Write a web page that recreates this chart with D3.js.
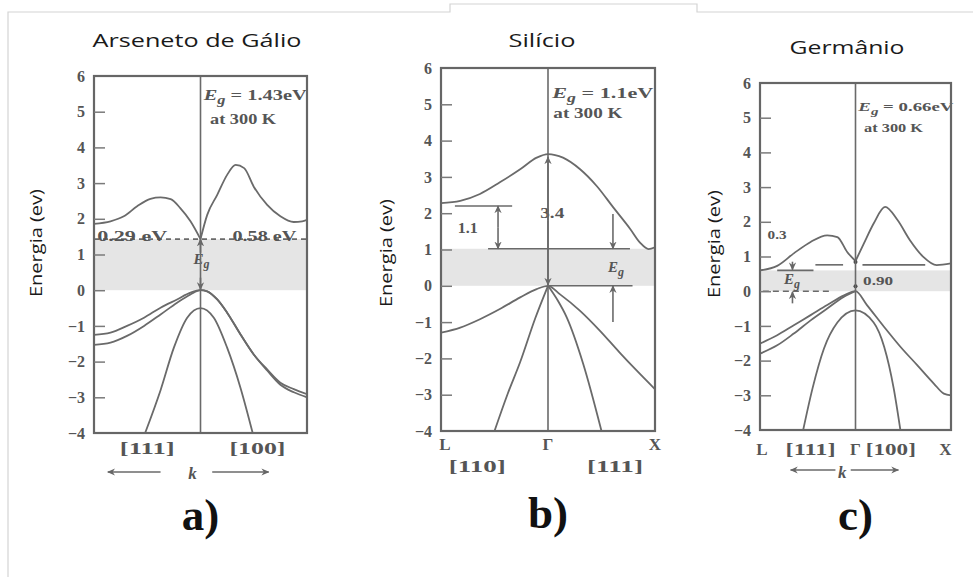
<!DOCTYPE html>
<html>
<head>
<meta charset="utf-8">
<script src="https://cdn.jsdelivr.net/npm/d3@7"></script>
<style>
  body { margin: 0; background: #fff; }
  svg { display: block; }
  .band { fill: none; stroke: #6a6a6a; stroke-width: 1.8; }
  .guide { stroke: #6a6a6a; stroke-width: 1.6; }
</style>
</head>
<body>
<svg id="chart" width="973" height="577"></svg>
<script>
// energy axis ticks, shared by the three panels (eV)
var energyTicks = [-4, -3, -2, -1, 0, 1, 2, 3, 4, 5, 6];

// k runs from -1 (L, left edge) through 0 (Gamma) to 1 (X, right edge)
// --- a) GaAs ---
var gaasGap = 1.43;
var gaasCond = [[-1, 1.86], [-0.845, 1.93], [-0.72, 2.07], [-0.595, 2.35], [-0.47, 2.56], [-0.375, 2.6], [-0.28, 2.55],
  [-0.19, 2.3], [-0.094, 1.93], [0, 1.43], [0.063, 2.11], [0.157, 2.67], [0.25, 3.23], [0.33, 3.51], [0.41, 3.42],
  [0.5, 2.9], [0.626, 2.39], [0.75, 2.07], [0.876, 1.91], [0.955, 1.93], [1, 1.97]];
var gaasHeavy = [[-1, -1.25], [-0.845, -1.19], [-0.69, -1.0], [-0.53, -0.77], [-0.375, -0.49], [-0.22, -0.26], [-0.094, -0.07],
  [0, 0], [0.063, -0.03], [0.157, -0.26], [0.25, -0.63], [0.376, -1.24], [0.5, -1.8], [0.626, -2.22], [0.75, -2.59],
  [0.876, -2.77], [1, -2.91]];
var gaasLight = [[-1, -1.53], [-0.845, -1.47], [-0.69, -1.28], [-0.53, -1.0], [-0.375, -0.68], [-0.22, -0.35], [-0.094, -0.12],
  [0, 0], [0.063, -0.03], [0.157, -0.26], [0.25, -0.63], [0.376, -1.24], [0.5, -1.8], [0.626, -2.25], [0.75, -2.65],
  [0.876, -2.86], [1, -3.0]];
var gaasSplit = [[-0.52, -4], [-0.375, -2.8], [-0.25, -1.61], [-0.125, -0.77], [0, -0.5], [0.125, -0.77], [0.25, -1.61],
  [0.375, -2.73], [0.49, -4]];

// --- b) Si ---
var siGap = 1.02;
var siCond = [[-1, 2.28], [-0.82, 2.34], [-0.636, 2.53], [-0.45, 2.85], [-0.26, 3.21], [-0.106, 3.53], [0, 3.63], [0.14, 3.53],
  [0.3, 3.21], [0.455, 2.75], [0.61, 2.16], [0.77, 1.56], [0.86, 1.19], [0.94, 1.01], [1, 1.06]];
var siValence = [[-1, -1.29], [-0.82, -1.15], [-0.636, -0.92], [-0.45, -0.64], [-0.26, -0.32], [-0.106, -0.09], [0, 0],
  [0.11, -0.23], [0.3, -0.69], [0.486, -1.24], [0.67, -1.84], [0.83, -2.34], [1, -2.85]];
var siLeftBranch = [[-0.5, -4], [-0.38, -3.0], [-0.26, -2.1], [-0.12, -0.9], [0, 0]];
var siRightBranch = [[0, 0], [0.09, -0.4], [0.175, -0.87], [0.33, -2.16], [0.5, -4]];

// --- c) Ge ---
var geGap = 0.6;
var geCond = [[-1, 0.6], [-0.82, 0.73], [-0.646, 1.09], [-0.47, 1.42], [-0.296, 1.61], [-0.19, 1.56], [-0.087, 1.13], [0, 0.87],
  [0.087, 1.37], [0.19, 1.95], [0.31, 2.43], [0.44, 2.05], [0.57, 1.47], [0.71, 0.99], [0.85, 0.75], [1, 0.8]];
var geHeavy = [[-1, -1.51], [-0.82, -1.27], [-0.646, -0.98], [-0.47, -0.69], [-0.296, -0.4], [-0.12, -0.12], [0, 0],
  [0.12, -0.4], [0.3, -1.03], [0.47, -1.6], [0.646, -2.13], [0.82, -2.66], [0.925, -2.95], [1, -3.0]];
var geLight = [[-1, -1.8], [-0.82, -1.56], [-0.646, -1.22], [-0.47, -0.84], [-0.296, -0.5], [-0.12, -0.16], [0, 0]];
var geSplit = [[-0.548, -4], [-0.45, -2.8], [-0.33, -1.65], [-0.19, -0.9], [0, -0.55], [0.19, -0.9], [0.3, -1.6],
  [0.4, -2.8], [0.47, -4]];
var geGammaDots = [0.84, 0.14];

var titles = ["Arseneto de Gálio", "Silício", "Germânio"];
var letters = ["a)", "b)", "c)"];

var SERIF = "'Liberation Serif', 'Times New Roman', serif";
var SANS = "'Open Sans', sans-serif";

var svg = d3.select("#chart");
var defs = svg.append("defs");

// arrow head used by all the little arrows
defs.append("marker")
    .attr("id", "head")
    .attr("viewBox", "0 0 10 10")
    .attr("refX", 9).attr("refY", 5)
    .attr("markerWidth", 8).attr("markerHeight", 8)
    .attr("markerUnits", "userSpaceOnUse")
    .attr("orient", "auto-start-reverse")
    .append("path")
    .attr("d", "M0,0.5 L10,5 L0,9.5 L3,5 z")
    .attr("fill", "#666");

// faint page frame from the screenshot
svg.append("path")
    .attr("d", "M8,577 V12 H450 V4 H697 V12 H973")
    .attr("fill", "none")
    .attr("stroke", "#d4d4d4")
    .attr("stroke-width", 1.2);

function makePanel(id, box) {
    var x = d3.scaleLinear().domain([-1, 1]).range([box.left, box.right]);
    var y = d3.scaleLinear().domain([-4, 6]).range([box.bottom, box.top]);
    defs.append("clipPath").attr("id", "clip-" + id)
        .append("rect")
        .attr("x", box.left).attr("y", box.top)
        .attr("width", box.right - box.left).attr("height", box.bottom - box.top);
    var g = svg.append("g");
    var plot = g.append("g").attr("clip-path", "url(#clip-" + id + ")");
    return { x: x, y: y, g: g, plot: plot, box: box };
}

function shadeGap(p, gap) {
    p.plot.append("rect")
        .attr("x", p.box.left).attr("width", p.box.right - p.box.left)
        .attr("y", p.y(gap)).attr("height", p.y(0) - p.y(gap))
        .attr("fill", "#e5e5e5");
}

function band(p, data, cusp) {
    var line = d3.line()
        .x(function (d) { return p.x(d[0]); })
        .y(function (d) { return p.y(d[1]); })
        .curve(d3.curveMonotoneX);
    var parts = cusp ? [data.filter(function (d) { return d[0] <= 0; }), data.filter(function (d) { return d[0] >= 0; })] : [data];
    parts.forEach(function (part) {
        p.plot.append("path").attr("class", "band").attr("d", line(part));
    });
}

function hline(p, e, k0, k1, dash) {
    p.plot.append("line").attr("class", "guide")
        .attr("x1", p.x(k0)).attr("x2", p.x(k1))
        .attr("y1", p.y(e)).attr("y2", p.y(e))
        .attr("stroke-dasharray", dash || null);
}

function arrow(p, k, e0, e1, both) {
    p.g.append("line").attr("class", "guide")
        .attr("stroke-width", 1.3)
        .attr("x1", p.x(k)).attr("x2", p.x(k))
        .attr("y1", p.y(e0)).attr("y2", p.y(e1))
        .attr("marker-end", "url(#head)")
        .attr("marker-start", both ? "url(#head)" : null);
}

function serifText(p, px, py, str, size, anchor, italic, width) {
    var t = p.g.append("text")
        .attr("x", px).attr("y", py)
        .attr("text-anchor", anchor || "start")
        .style("font-family", SERIF)
        .style("fill", "#555")
        .style("font-size", size + "px")
        .style("font-weight", "bold")
        .style("font-style", italic ? "italic" : "normal")
        .text(str);
    if (width) t.attr("textLength", width).attr("lengthAdjust", "spacingAndGlyphs");
    return t;
}

// "E_g = ..." label with italic E and subscript g
function egLabel(p, px, py, rest, size, width) {
    var t = serifText(p, px, py, null, size, "start", false, width);
    t.append("tspan").style("font-style", "italic").text("E");
    t.append("tspan").style("font-style", "italic").style("font-size", (size * 0.8) + "px")
        .attr("dy", 4).text("g");
    if (rest) t.append("tspan").attr("dy", -4).text(rest);
    return t;
}

function finishPanel(p, title, titleX, titleY, titleW, ylabelX, ylabelY, letter, letterY) {
    var b = p.box;
    // Gamma line
    p.g.append("line").attr("class", "guide")
        .attr("x1", p.x(0)).attr("x2", p.x(0))
        .attr("y1", b.top).attr("y2", b.bottom);
    // frame
    p.g.append("rect")
        .attr("x", b.left).attr("y", b.top)
        .attr("width", b.right - b.left).attr("height", b.bottom - b.top)
        .attr("fill", "none").attr("stroke", "#666").attr("stroke-width", 2.2);
    // energy axis with inward ticks
    var ax = p.g.append("g")
        .attr("transform", "translate(" + b.left + ",0)")
        .call(d3.axisLeft(p.y).tickValues(energyTicks).tickSize(-11).tickPadding(9).tickFormat(d3.format("d")))
        .attr("font-family", SERIF);
    ax.select(".domain").remove();
    ax.selectAll(".tick line").attr("stroke", "#7a7a7a").attr("stroke-width", 1.5);
    ax.selectAll(".tick").filter(function (d) { return d === 6 || d === -4; }).select("line").remove();
    ax.selectAll(".tick text")
        .style("font-family", SERIF)
        .style("font-weight", "bold")
        .style("font-size", "16px")
        .style("fill", "#555");

    svg.append("text")
        .attr("x", titleX).attr("y", titleY)
        .attr("text-anchor", "middle")
        .attr("textLength", titleW).attr("lengthAdjust", "spacingAndGlyphs")
        .style("font-family", SANS).style("font-size", "19px").style("fill", "#1a1a1a")
        .text(title);
    svg.append("text")
        .attr("transform", "translate(" + ylabelX + "," + ylabelY + ") rotate(-90)")
        .attr("text-anchor", "middle")
        .attr("dy", "0.35em")
        .attr("textLength", 108).attr("lengthAdjust", "spacingAndGlyphs")
        .style("font-family", SANS).style("font-size", "17px").style("fill", "#1a1a1a")
        .text("Energia (ev)");
    svg.append("text")
        .attr("x", p.x(0)).attr("y", letterY)
        .attr("text-anchor", "middle")
        .style("font-family", SERIF).style("font-weight", "bold")
        .style("font-size", "45px").style("fill", "#111")
        .text(letter);
}

function kArrows(p, kText, k0, k1, k2, k3, yArrow, yText) {
    [[k0, k1], [k2, k3]].forEach(function (s) {
        p.g.append("line").attr("class", "guide").attr("stroke-width", 1.3)
            .attr("x1", p.x(s[0])).attr("x2", p.x(s[1]))
            .attr("y1", yArrow).attr("y2", yArrow)
            .attr("marker-end", "url(#head)");
    });
    serifText(p, p.x(kText), yText, "k", 17, "middle", true);
}

// ---------------- a) GaAs ----------------
var pa = makePanel("a", { left: 94, right: 307, top: 76, bottom: 433 });
shadeGap(pa, gaasGap);
hline(pa, gaasGap, -1, 1, "5,4");
band(pa, gaasCond, true);
band(pa, gaasHeavy);
band(pa, gaasLight);
band(pa, gaasSplit);
arrow(pa, 0, 1.05, gaasGap);
arrow(pa, 0, 0.35, 0.02);
egLabel(pa, pa.x(0) - 7, pa.y(0.72), "", 15);
egLabel(pa, pa.x(0.03), 100, " = 1.43eV", 15, 103);
serifText(pa, pa.x(0.09), 124, "at 300 K", 14, "start", false, 66);
serifText(pa, pa.x(-0.97), pa.y(gaasGap) + 2, "0.29 eV", 15, "start", false, 70);
serifText(pa, pa.x(0.3), pa.y(gaasGap) + 2, "0.58 eV", 15, "start", false, 64);
serifText(pa, pa.x(-0.5), 454, "[111]", 17, "middle", false, 55);
serifText(pa, pa.x(0.535), 454, "[100]", 17, "middle", false, 56);
kArrows(pa, -0.075, -0.375, -0.87, 0.11, 0.64, 472, 479);
finishPanel(pa, titles[0], 197, 47, 209, 36, 243, letters[0], 530);

// ---------------- b) Si ----------------
var pb = makePanel("b", { left: 441, right: 655, top: 68, bottom: 431 });
shadeGap(pb, siGap);
band(pb, siCond);
band(pb, siValence);
band(pb, siLeftBranch);
band(pb, siRightBranch);
hline(pb, 2.2, -0.87, -0.335);
hline(pb, siGap, -0.56, 0.766);
hline(pb, 0, 0, 0.79);
arrow(pb, -0.467, 1.6, 2.2);
arrow(pb, -0.467, 1.6, siGap);
arrow(pb, 0.607, 1.98, siGap);
arrow(pb, 0.607, -1.0, 0);
arrow(pb, 0, 1.8, 3.55);
arrow(pb, 0, 1.8, 0.02);
pb.g.append("line").attr("class", "guide").attr("stroke-width", 3)
    .attr("x1", 490).attr("x2", 605).attr("y1", pb.box.top).attr("y2", pb.box.top);
serifText(pb, pb.x(-0.75), pb.y(1.45), "1.1", 14, "middle", false, 20);
serifText(pb, pb.x(0.04), pb.y(1.88), "3.4", 15, "middle", false, 24);
egLabel(pb, pb.x(0.56), pb.y(0.38), "", 15);
egLabel(pb, pb.x(0.04), 98, " = 1.1eV", 15, 101);
serifText(pb, pb.x(0.05), 118, "at 300 K", 14, "start", false, 69);
serifText(pb, pb.x(-1) + 4, 450, "L", 17, "middle");
serifText(pb, pb.x(0), 450, "Γ", 17, "middle");
serifText(pb, pb.x(1), 450, "X", 17, "middle");
serifText(pb, pb.x(-0.66), 472, "[110]", 17, "middle", false, 57);
serifText(pb, pb.x(0.626), 472, "[111]", 17, "middle", false, 56);
finishPanel(pb, titles[1], 542, 47, 67, 386, 253, letters[1], 528);

// ---------------- c) Ge ----------------
var pc = makePanel("c", { left: 760, right: 951, top: 83, bottom: 430 });
shadeGap(pc, geGap);
hline(pc, 0, -0.97, -0.24, "6,4");
hline(pc, geGap, -0.82, -0.44);
hline(pc, 0.76, -0.42, -0.13);
hline(pc, 0.76, 0.073, 0.73);
band(pc, geCond, true);
band(pc, geHeavy);
band(pc, geLight);
band(pc, geSplit);
arrow(pc, -0.66, 0.85, geGap + 0.02);
arrow(pc, -0.66, -0.35, -0.02);
pc.g.selectAll(".gdot")
    .data(geGammaDots)
    .enter().append("circle")
    .attr("cx", pc.x(0))
    .attr("cy", function (d) { return pc.y(d); })
    .attr("r", 2)
    .attr("fill", "#444");
serifText(pc, pc.x(-0.92), pc.y(1.5), "0.3", 13, "start", false, 19);
egLabel(pc, pc.x(-0.75), pc.y(0.22), "", 15);
serifText(pc, pc.x(0.08), pc.y(0.18), "0.90", 13, "start", false, 30);
egLabel(pc, pc.x(0.03), 111, " = 0.66eV", 13, 95);
serifText(pc, pc.x(0.09), 132, "at 300 K", 13, "start", false, 59);
serifText(pc, pc.x(-0.98), 455, "L", 17, "middle");
serifText(pc, pc.x(-0.47), 455, "[111]", 17, "middle", false, 50);
serifText(pc, pc.x(0), 455, "Γ", 17, "middle");
serifText(pc, pc.x(0.37), 455, "[100]", 17, "middle", false, 50);
serifText(pc, pc.x(0.94), 455, "X", 17, "middle");
kArrows(pc, -0.14, -0.21, -0.68, -0.05, 0.45, 470, 478);
finishPanel(pc, titles[2], 847, 54, 115, 714, 244, letters[2], 530);
</script>
</body>
</html>
